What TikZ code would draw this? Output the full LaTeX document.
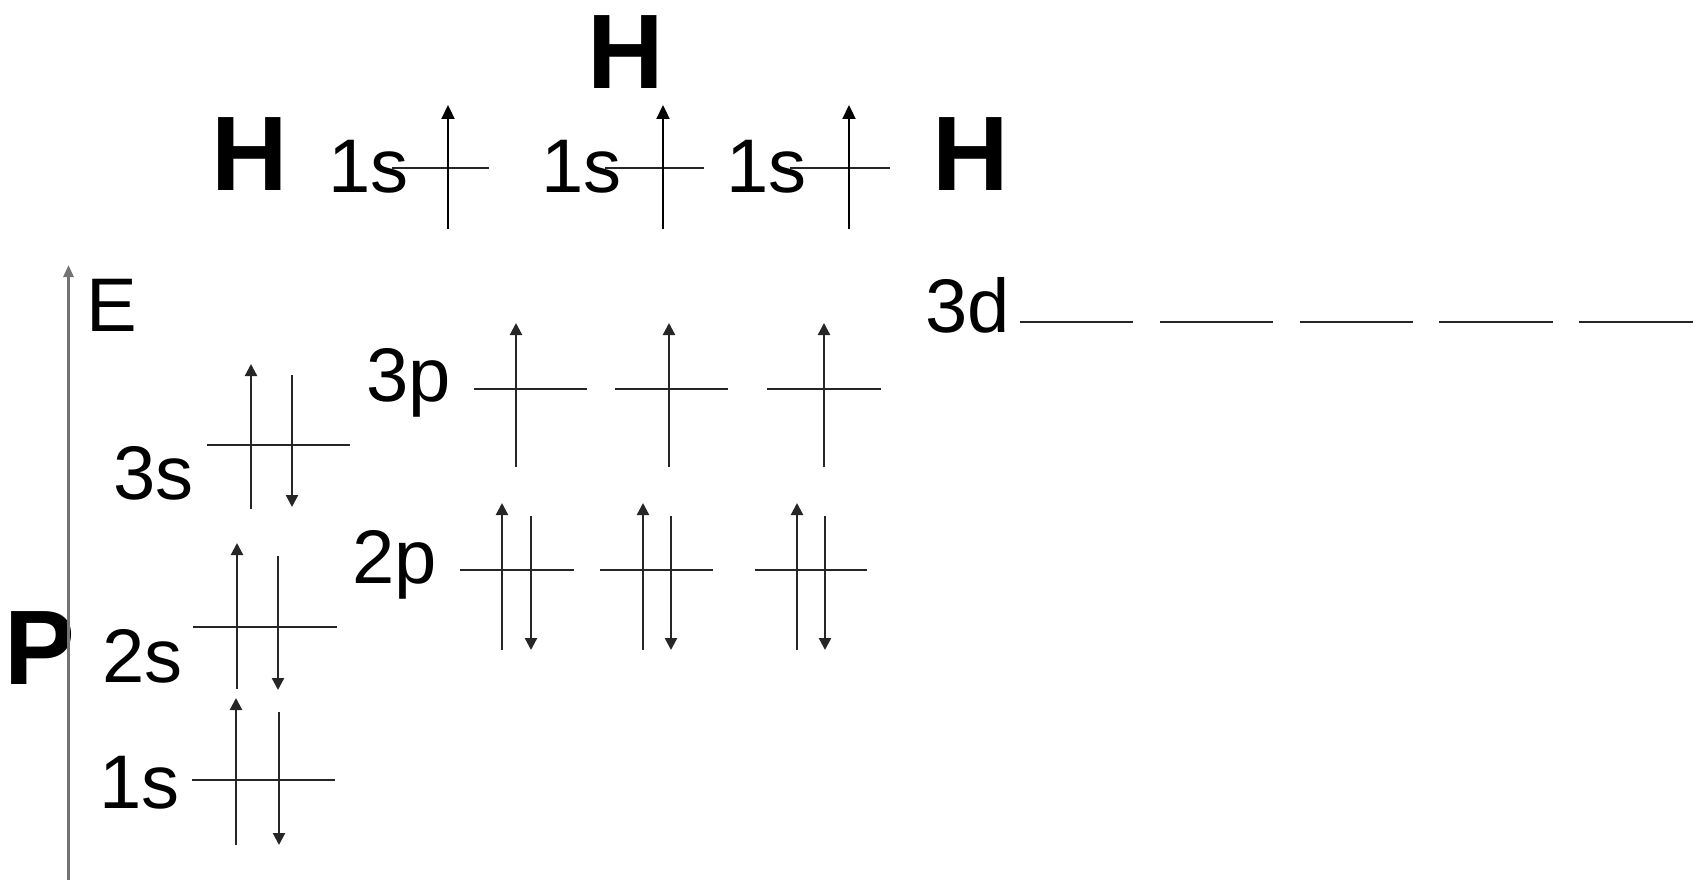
\documentclass[tikz,border=0pt]{standalone}
\usepackage{fontspec}
\setmainfont{Liberation Sans}
\usetikzlibrary{arrows.meta}
\begin{document}
\begin{tikzpicture}[x=1pt,y=-1pt,
  lbl/.style={inner sep=0pt, anchor=base west, font=\fontsize{76}{80}\selectfont},
  atom/.style={inner sep=0pt, anchor=base, font=\fontsize{106}{110}\selectfont\bfseries},
  lev/.style={line width=2.3pt, draw=black!85},
  spinup/.style={line width=2.3pt, draw=black!85, -{Triangle[length=12pt,width=12pt]}},
  spindn/.style={line width=2.3pt, draw=black!85, -{Triangle[length=12pt,width=12pt]}},
  hup/.style={line width=2.3pt, draw=black, -{Triangle[length=14pt,width=13pt]}},
  axisline/.style={line width=2.8pt, draw=black!55, -{Triangle[length=12pt,width=10pt]}}
]
\useasboundingbox (0,0) rectangle (1704,880);

% ---------- hydrogen atoms ----------
\node[atom] (Htop) at (626,89) {H};
\node[atom] (Hleft) at (250,190) {H};
\node[atom] (Hright) at (971,190) {H};

\node[lbl] (h1s1) at (328,192) {1s};
\node[lbl] (h1s2) at (541,192) {1s};
\node[lbl] (h1s3) at (726,192) {1s};

\draw[lev] (392,168) -- (489,168);
\draw[lev] (605,168) -- (704,168);
\draw[lev] (790,168) -- (890,168);
\draw[hup] (448,229) -- (448,105);
\draw[hup] (663,229) -- (663,105);
\draw[hup] (849,229) -- (849,105);

% ---------- phosphorus ----------
\node[atom] (P) at (40,684) {P};
\coordinate (axbot) at (68.5,885);
\coordinate (axtop) at (68.5,265);
\draw[axisline] (axbot) -- (axtop);
\node[lbl] (E) at (86,331) {E};

% 1s
\node[lbl] (l1s) at (99,808) {1s};
\draw[lev] (192,780) -- (335,780);
\draw[spinup] (236,845) -- (236,698);
\draw[spindn] (279,712) -- (279,845);

% 2s
\node[lbl] (l2s) at (102,682) {2s};
\draw[lev] (193,627) -- (337,627);
\draw[spinup] (237,689) -- (237,543);
\draw[spindn] (278,556) -- (278,690);

% 3s
\node[lbl] (l3s) at (113,499) {3s};
\draw[lev] (207,445) -- (350,445);
\draw[spinup] (251,509) -- (251,364);
\draw[spindn] (292,375) -- (292,507);

% 2p
\node[lbl] (l2p) at (352,583) {2p};
\draw[lev] (460,570) -- (574,570);
\draw[lev] (600,570) -- (713,570);
\draw[lev] (755,570) -- (867,570);
\draw[spinup] (502,650) -- (502,503);
\draw[spindn] (531,516) -- (531,650);
\draw[spinup] (643,650) -- (643,503);
\draw[spindn] (671,516) -- (671,650);
\draw[spinup] (797,650) -- (797,503);
\draw[spindn] (825,516) -- (825,650);

% 3p
\node[lbl] (l3p) at (366,401) {3p};
\draw[lev] (474,389) -- (587,389);
\draw[lev] (615,389) -- (728,389);
\draw[lev] (767,389) -- (881,389);
\draw[spinup] (516,467) -- (516,323);
\draw[spinup] (669,467) -- (669,323);
\draw[spinup] (824,467) -- (824,323);

% 3d
\node[lbl] (l3d) at (925,332) {3d};
\draw[lev] (1020,322) -- (1133,322);
\draw[lev] (1160,322) -- (1273,322);
\draw[lev] (1300,322) -- (1413,322);
\draw[lev] (1439,322) -- (1553,322);
\draw[lev] (1579,322) -- (1693,322);
\end{tikzpicture}
\end{document}
